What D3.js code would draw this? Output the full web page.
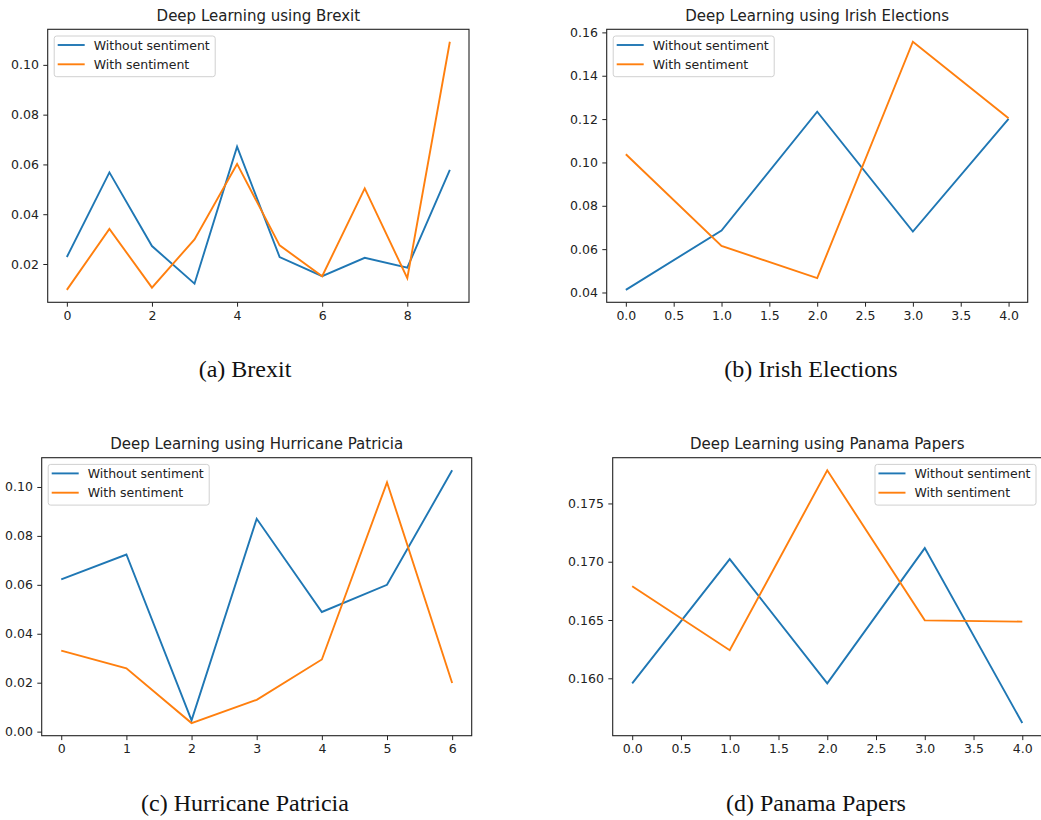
<!DOCTYPE html>
<html>
<head>
<meta charset="utf-8">
<script src="https://cdn.jsdelivr.net/npm/d3@7"></script>
<style>
  html, body { margin: 0; padding: 0; background: #fff; }
  svg { display: block; }
  text { font-family: "DejaVu Sans", sans-serif; fill: #222; }
  .caption { font-family: "Liberation Serif", "DejaVu Serif", serif; fill: #111; }
</style>
</head>
<body>
<svg id="chart" width="1041" height="820"></svg>
<script>
// ---------- data ----------
const seriesNames = ["Without sentiment", "With sentiment"];

const brexitX = [0, 1, 2, 3, 4, 5, 6, 7, 8, 9];
const brexitWithout = [0.0228, 0.0568, 0.0272, 0.0121, 0.0671, 0.0228, 0.0151, 0.0225, 0.0185, 0.0578];
const brexitWith    = [0.0096, 0.0341, 0.0105, 0.0299, 0.0602, 0.0275, 0.0151, 0.0504, 0.0143, 0.1093];
const brexitXTicks = [0, 2, 4, 6, 8];
const brexitYTicks = [0.02, 0.04, 0.06, 0.08, 0.10];

const irishX = [0, 1, 2, 3, 4];
const irishWithout = [0.0412, 0.0686, 0.1234, 0.0681, 0.1201];
const irishWith    = [0.1038, 0.0615, 0.0466, 0.1557, 0.1204];
const irishXTicks = [0.0, 0.5, 1.0, 1.5, 2.0, 2.5, 3.0, 3.5, 4.0];
const irishYTicks = [0.04, 0.06, 0.08, 0.10, 0.12, 0.14, 0.16];

const patriciaX = [0, 1, 2, 3, 4, 5, 6];
const patriciaWithout = [0.0622, 0.0724, 0.0046, 0.0870, 0.0489, 0.0600, 0.1068];
const patriciaWith    = [0.0331, 0.0259, 0.0035, 0.0130, 0.0295, 0.1019, 0.0199];
const patriciaXTicks = [0, 1, 2, 3, 4, 5, 6];
const patriciaYTicks = [0.00, 0.02, 0.04, 0.06, 0.08, 0.10];

const panamaX = [0, 1, 2, 3, 4];
const panamaWithout = [0.15957, 0.17023, 0.15957, 0.17117, 0.15616];
const panamaWith    = [0.16790, 0.16241, 0.17784, 0.16497, 0.16486];
const panamaXTicks = [0.0, 0.5, 1.0, 1.5, 2.0, 2.5, 3.0, 3.5, 4.0];
const panamaYTicks = [0.160, 0.165, 0.170, 0.175];

const titles = ["Deep Learning using Brexit", "Deep Learning using Irish Elections",
                "Deep Learning using Hurricane Patricia", "Deep Learning using Panama Papers"];
const captions = ["(a)  Brexit", "(b)  Irish Elections", "(c)  Hurricane Patricia", "(d)  Panama Papers"];

// ---------- layout / style ----------
const colors = ["#1f77b4", "#ff7f0e"];
const svg = d3.select("#chart");

const panels = [
  { x: brexitX, s: [brexitWithout, brexitWith], xt: brexitXTicks, yt: brexitYTicks, xf: d3.format("d"), yf: d3.format(".2f"),
    rect: [47.7, 29.3, 469, 302.3], legend: "left", title: titles[0], cap: captions[0], capX: 245, capY: 377 },
  { x: irishX, s: [irishWithout, irishWith], xt: irishXTicks, yt: irishYTicks, xf: d3.format(".1f"), yf: d3.format(".2f"),
    rect: [606.7, 29.3, 1027.7, 302.3], legend: "left", title: titles[1], cap: captions[1], capX: 811, capY: 377 },
  { x: patriciaX, s: [patriciaWithout, patriciaWith], xt: patriciaXTicks, yt: patriciaYTicks, xf: d3.format("d"), yf: d3.format(".2f"),
    rect: [41.7, 457.7, 471.7, 735.7], legend: "left", title: titles[2], cap: captions[2], capX: 245, capY: 811 },
  { x: panamaX, s: [panamaWithout, panamaWith], xt: panamaXTicks, yt: panamaYTicks, xf: d3.format(".1f"), yf: d3.format(".3f"),
    rect: [612.7, 457.7, 1041.8, 735.7], legend: "right", title: titles[3], cap: captions[3], capX: 816, capY: 811 }
];

function padDomain(lo, hi) { const m = (hi - lo) * 0.05; return [lo - m, hi + m]; }

panels.forEach(p => {
  const [x0, y0, x1, y1] = p.rect;
  const xs = d3.scaleLinear().domain(padDomain(d3.min(p.x), d3.max(p.x))).range([x0, x1]);
  const all = p.s.flat();
  const ys = d3.scaleLinear().domain(padDomain(d3.min(all), d3.max(all))).range([y1, y0]);
  const g = svg.append("g");

  // lines
  const line = d3.line().x((d, i) => xs(p.x[i])).y(d => ys(d));
  p.s.forEach((vals, k) => {
    g.append("path").datum(vals).attr("d", line)
      .attr("fill", "none").attr("stroke", colors[k]).attr("stroke-width", 1.9)
      .attr("stroke-linejoin", "miter");
  });

  // axes
  const xa = g.append("g").attr("transform", `translate(0,${y1})`)
    .call(d3.axisBottom(xs).tickValues(p.xt).tickFormat(p.xf).tickSize(4.4).tickPadding(4.4));
  const ya = g.append("g").attr("transform", `translate(${x0},0)`)
    .call(d3.axisLeft(ys).tickValues(p.yt).tickFormat(p.yf).tickSize(4.4).tickPadding(4.4));
  [xa, ya].forEach(a => {
    a.select(".domain").remove();
    a.selectAll(".tick line").attr("stroke", "#222").attr("stroke-width", 1);
    a.selectAll(".tick text").style("font-size", "12.5px").style("font-family", "DejaVu Sans").attr("fill", "#222");
  });

  // frame
  g.append("rect").attr("x", x0).attr("y", y0).attr("width", x1 - x0).attr("height", y1 - y0)
    .attr("fill", "none").attr("stroke", "#222").attr("stroke-width", 1.1);

  // title
  g.append("text").attr("x", (x0 + x1) / 2).attr("y", y0 - 8.3)
    .attr("text-anchor", "middle").style("font-size", "15px").text(p.title);

  // legend
  const lg = g.append("g");
  const box = lg.append("rect").attr("rx", 2.5).attr("ry", 2.5)
    .attr("fill", "#fff").attr("fill-opacity", 0.8).attr("stroke", "#d0d0d0").attr("stroke-width", 1);
  const items = lg.selectAll("g.item").data(seriesNames).join("g").attr("class", "item")
    .attr("transform", (d, i) => `translate(0,${9 + i * 19.3})`);
  items.append("line").attr("x1", 3.5).attr("x2", 30.5).attr("y1", 0).attr("y2", 0)
    .attr("stroke", (d, i) => colors[i]).attr("stroke-width", 1.9);
  items.append("text").attr("x", 39.5).attr("y", 0).attr("dy", "0.36em")
    .style("font-size", "12.5px").text(d => d);
  let tw = 0;
  items.selectAll("text").each(function () { tw = Math.max(tw, this.getComputedTextLength()); });
  const bw = 39.5 + tw + 5.5, bh = 40.7;
  box.attr("x", 0).attr("y", 0).attr("width", bw).attr("height", bh);
  const lx = p.legend === "left" ? x0 + 6.5 : x1 - 5.8 - bw;
  lg.attr("transform", `translate(${lx},${y0 + 6.7})`);

  // caption
  svg.append("text").attr("class", "caption").attr("x", p.capX).attr("y", p.capY)
    .attr("text-anchor", "middle").style("font-size", "24px").text(p.cap);
});
</script>
</body>
</html>
